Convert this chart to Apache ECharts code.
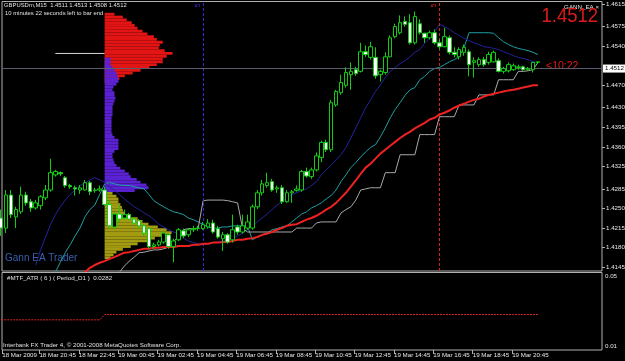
<!DOCTYPE html>
<html><head><meta charset="utf-8">
<script src="https://cdn.jsdelivr.net/npm/echarts@6/dist/echarts.min.js"></script>
<style>html,body{margin:0;padding:0;background:#000;}#c{width:625px;height:361px;}</style>
</head><body><div id="c"></div>
<script>
// ---------- DATA ----------
const headerText = 'GBPUSDm,M15  1.4511 1.4513 1.4508 1.4512';
const timerText = '10 minutes 22 seconds left to bar end';
const atrTitle = '#MTF_ATR ( 6 ) ( Period_D1 )  0.0282';
const footerText = 'Interbank FX Trader 4, \u00a9 2001-2008 MetaQuotes Software Corp.';
const eaName = 'GANN_EA \u00d7';
const bigPrice = '1.4512';
const barTimer = '<10:22';
const watermark = 'Gann EA Trader';
const bidPrice = 1.4512;

const timeLabels = ['18 Mar 2009','18 Mar 20:45','18 Mar 22:45','19 Mar 00:45','19 Mar 02:45','19 Mar 04:45','19 Mar 06:45','19 Mar 08:45','19 Mar 10:45','19 Mar 12:45','19 Mar 14:45','19 Mar 16:45','19 Mar 18:45','19 Mar 20:45'];
const timeLabelBars = [0,8,16,24,32,40,48,56,64,72,80,88,96,104];
const priceTicks = [1.4615,1.4575,1.4540,1.4470,1.4430,1.4395,1.4360,1.4325,1.4285,1.4250,1.4215,1.4180,1.4145];
const atrTicks = [0.01,0.05];

// [open, close, low, high] per M15 bar, from 18 Mar 18:45
const candles = [
[1.4233,1.4215,1.4201,1.4248],[1.4215,1.4274,1.4206,1.4283],[1.4274,1.4239,1.4233,1.4283],[1.4235,1.4248,1.4215,1.4253],
[1.4244,1.4274,1.4240,1.4289],[1.4274,1.4260,1.4255,1.4280],[1.4262,1.4251,1.4244,1.4267],[1.4251,1.4260,1.4248,1.4265],
[1.4255,1.4271,1.4248,1.4274],[1.4269,1.4283,1.4265,1.4292],[1.4283,1.4314,1.4280,1.4339],[1.4310,1.4316,1.4307,1.4319],
[1.4314,1.4312,1.4308,1.4316],[1.4305,1.4291,1.4287,1.4308],[1.4291,1.4289,1.4285,1.4294],[1.4287,1.4285,1.4273,1.4291],
[1.4283,1.4287,1.4276,1.4292],[1.4283,1.4296,1.4282,1.4301],[1.4296,1.4280,1.4274,1.4299],[1.4282,1.4283,1.4278,1.4287],
[1.4283,1.4285,1.4280,1.4291],[1.4283,1.4257,1.4255,1.4289],[1.4257,1.4219,1.4214,1.4265],[1.4217,1.4240,1.4214,1.4244],
[1.4240,1.4231,1.4226,1.4257],[1.4233,1.4239,1.4230,1.4248],[1.4239,1.4231,1.4228,1.4242],[1.4231,1.4224,1.4221,1.4235],
[1.4228,1.4219,1.4214,1.4231],[1.4219,1.4206,1.4201,1.4222],[1.4214,1.4182,1.4178,1.4217],[1.4182,1.4185,1.4178,1.4189],
[1.4185,1.4190,1.4182,1.4194],[1.4190,1.4206,1.4187,1.4210],[1.4203,1.4182,1.4178,1.4206],[1.4182,1.4192,1.4154,1.4196],
[1.4194,1.4212,1.4192,1.4215],[1.4210,1.4201,1.4197,1.4214],[1.4203,1.4212,1.4199,1.4215],[1.4212,1.4214,1.4208,1.4219],
[1.4214,1.4215,1.4210,1.4219],[1.4214,1.4221,1.4212,1.4226],[1.4217,1.4224,1.4214,1.4231],[1.4224,1.4208,1.4205,1.4230],
[1.4214,1.4199,1.4196,1.4219],[1.4196,1.4203,1.4174,1.4208],[1.4203,1.4190,1.4187,1.4206],[1.4194,1.4212,1.4189,1.4239],
[1.4217,1.4208,1.4203,1.4221],[1.4208,1.4219,1.4205,1.4239],[1.4215,1.4226,1.4212,1.4239],[1.4215,1.4253,1.4212,1.4257],
[1.4253,1.4278,1.4249,1.4283],[1.4278,1.4294,1.4273,1.4301],[1.4291,1.4296,1.4287,1.4314],[1.4298,1.4283,1.4280,1.4303],
[1.4285,1.4287,1.4278,1.4291],[1.4287,1.4262,1.4258,1.4292],[1.4262,1.4278,1.4260,1.4283],[1.4278,1.4280,1.4260,1.4283],
[1.4282,1.4285,1.4280,1.4291],[1.4283,1.4316,1.4280,1.4319],[1.4316,1.4308,1.4305,1.4323],[1.4307,1.4319,1.4303,1.4323],
[1.4319,1.4344,1.4316,1.4350],[1.4341,1.4368,1.4333,1.4371],[1.4368,1.4355,1.4351,1.4373],[1.4355,1.4439,1.4351,1.4444],
[1.4435,1.4459,1.4432,1.4462],[1.4457,1.4475,1.4453,1.4489],[1.4470,1.4493,1.4466,1.4502],[1.4489,1.4495,1.4462,1.4511],
[1.4498,1.4491,1.4487,1.4503],[1.4495,1.4530,1.4493,1.4546],[1.4530,1.4525,1.4521,1.4541],[1.4520,1.4539,1.4516,1.4548],
[1.4520,1.4487,1.4482,1.4538],[1.4489,1.4495,1.4477,1.4498],[1.4493,1.4521,1.4489,1.4529],[1.4521,1.4555,1.4520,1.4559],
[1.4557,1.4575,1.4554,1.4580],[1.4564,1.4582,1.4561,1.4595],[1.4584,1.4579,1.4575,1.4593],[1.4582,1.4546,1.4543,1.4597],
[1.4546,1.4593,1.4543,1.4602],[1.4580,1.4564,1.4561,1.4588],[1.4563,1.4555,1.4546,1.4564],[1.4555,1.4564,1.4552,1.4568],
[1.4564,1.4546,1.4543,1.4570],[1.4546,1.4539,1.4534,1.4552],[1.4539,1.4557,1.4538,1.4573],[1.4555,1.4529,1.4525,1.4559],
[1.4529,1.4525,1.4520,1.4538],[1.4521,1.4534,1.4516,1.4538],[1.4529,1.4538,1.4523,1.4543],[1.4530,1.4507,1.4486,1.4534],
[1.4511,1.4514,1.4484,1.4520],[1.4507,1.4516,1.4503,1.4520],[1.4516,1.4507,1.4503,1.4521],[1.4511,1.4525,1.4507,1.4530],
[1.4512,1.4529,1.4511,1.4532],[1.4514,1.4495,1.4493,1.4518],[1.4495,1.4500,1.4491,1.4503],[1.4496,1.4507,1.4493,1.4511],
[1.4498,1.4505,1.4496,1.4509],[1.4502,1.4503,1.4498,1.4507],[1.4503,1.4498,1.4496,1.4505],[1.4498,1.4500,1.4496,1.4503],
[1.4498,1.4511,1.4493,1.4512],[1.4511,1.4512,1.4508,1.4513]
];

const redMaStart = 17;
const redMa = [1.4136,1.4144,1.4149,1.4153,1.4156,1.4160,1.4163,1.4167,1.4171,1.4172,
1.4174,1.4176,1.4178,1.4178,1.4180,1.4180,1.4181,1.4181,1.4181,1.4183,
1.4183,1.4183,1.4185,1.4185,1.4187,1.4187,1.4189,1.4189,1.4190,1.4190,
1.4192,1.4194,1.4194,1.4196,1.4197,1.4199,1.4203,1.4205,1.4208,1.4212,
1.4215,1.4219,1.4221,1.4222,1.4226,1.4230,1.4233,1.4237,1.4242,1.4248,
1.4253,1.4260,1.4269,1.4278,1.4289,1.4300,1.4312,1.4323,1.4330,1.4339,
1.4348,1.4355,1.4362,1.4369,1.4376,1.4382,1.4387,1.4393,1.4398,1.4403,
1.4409,1.4412,1.4418,1.4421,1.4425,1.4430,1.4434,1.4437,1.4441,1.4444,
1.4446,1.4450,1.4453,1.4455,1.4457,1.4459,1.4461,1.4462,1.4464,1.4466,
1.4468,1.4470,1.4470];

const navyStart = 7;
const navyLine = [1.4149,1.4176,1.4199,1.4221,1.4239,1.4253,1.4265,1.4275,1.4283,1.4291,
1.4296,1.4301,1.4305,1.4301,1.4296,1.4289,1.4282,1.4275,1.4267,1.4260,
1.4253,1.4248,1.4242,1.4237,1.4230,1.4222,1.4217,1.4212,1.4208,1.4205,
1.4197,1.4192,1.4189,1.4187,1.4185,1.4187,1.4189,1.4190,1.4192,1.4194,
1.4197,1.4201,1.4206,1.4212,1.4219,1.4226,1.4233,1.4240,1.4248,1.4256,
1.4262,1.4269,1.4275,1.4278,1.4282,1.4285,1.4291,1.4298,1.4310,1.4319,
1.4328,1.4337,1.4346,1.4359,1.4376,1.4394,1.4412,1.4430,1.4444,1.4459,
1.4471,1.4484,1.4495,1.4502,1.4509,1.4514,1.4521,1.4529,1.4534,1.4545,
1.4555,1.4566,1.4579,1.4575,1.4570,1.4564,1.4559,1.4554,1.4550,1.4546,
1.4543,1.4539,1.4538,1.4536,1.4534,1.4530,1.4527,1.4523,1.4520,1.4518,
1.4516,1.4512,1.4511];

const tealAStart = 11;
const tealA = [1.4136,1.4154,1.4171,1.4185,1.4201,1.4215,1.4235,1.4248,1.4256,1.4275,
1.4294,1.4296,1.4294,1.4292,1.4291,1.4291,1.4289,1.4287,1.4285,1.4275,
1.4264,1.4258,1.4253,1.4248,1.4244,1.4242,1.4239,1.4233,1.4230,1.4226,
1.4221,1.4217,1.4215,1.4215,1.4217,1.4217,1.4219,1.4219,1.4219,1.4219,1.4194];

const tealBStart = 51;
const tealB = [1.4194,1.4199,1.4203,1.4206,1.4212,1.4214,1.4217,1.4219,
1.4226,1.4233,1.4240,1.4244,1.4251,1.4255,1.4260,1.4267,
1.4273,1.4283,1.4298,1.4310,1.4323,1.4332,1.4342,1.4351,
1.4359,1.4364,1.4378,1.4394,1.4412,1.4427,1.4439,1.4452,
1.4462,1.4466,1.4480,1.4486,1.4495,1.4500,1.4502,1.4507,
1.4512,1.4516,1.4521,1.4538,1.4564,1.4564,1.4564,1.4564,
1.4564,1.4563,1.4555,1.4548,1.4543,1.4539,1.4536,1.4534,
1.4532,1.4529,1.4525];

const greyStart = 24;
const greyStop = [1.4136,1.4147,1.4156,1.4163,1.4171,1.4172,1.4174,1.4176,1.4176,1.4178,
1.4181,1.4190,1.4201,1.4212,1.4214,1.4214,1.4215,1.4264,1.4265,1.4265,
1.4265,1.4265,1.4264,1.4262,1.4260,1.4215,1.4208,1.4208,1.4208,1.4208,
1.4208,1.4208,1.4208,1.4208,1.4208,1.4208,1.4215,1.4215,1.4215,1.4215,
1.4224,1.4226,1.4226,1.4226,1.4226,1.4242,1.4248,1.4253,1.4265,1.4283,
1.4285,1.4287,1.4287,1.4287,1.4314,1.4314,1.4314,1.4346,1.4346,1.4346,
1.4346,1.4382,1.4382,1.4382,1.4382,1.4414,1.4414,1.4414,1.4414,1.4435,
1.4435,1.4435,1.4435,1.4453,1.4453,1.4453,1.4453,1.4480,1.4480,1.4480,
1.4480,1.4495,1.4495,1.4496,1.4498,1.4511];

const whiteLevel = [[11,1.4527],[21,1.4527]];

// MTF ATR(6) D1 per bar: 21 bars of 18 Mar, 89 bars of 19 Mar
const atrD1 = [
0.0252,0.0252,0.0252,0.0252,0.0252,0.0252,0.0252,0.0252,0.0252,0.0252,
0.0252,0.0252,0.0252,0.0252,0.0252,0.0252,0.0252,0.0252,0.0252,0.0252,0.0252,
0.0282,0.0282,0.0282,0.0282,0.0282,0.0282,0.0282,0.0282,0.0282,0.0282,
0.0282,0.0282,0.0282,0.0282,0.0282,0.0282,0.0282,0.0282,0.0282,0.0282,
0.0282,0.0282,0.0282,0.0282,0.0282,0.0282,0.0282,0.0282,0.0282,0.0282,
0.0282,0.0282,0.0282,0.0282,0.0282,0.0282,0.0282,0.0282,0.0282,0.0282,
0.0282,0.0282,0.0282,0.0282,0.0282,0.0282,0.0282,0.0282,0.0282,0.0282,
0.0282,0.0282,0.0282,0.0282,0.0282,0.0282,0.0282,0.0282,0.0282,0.0282,
0.0282,0.0282,0.0282,0.0282,0.0282,0.0282,0.0282,0.0282,0.0282,0.0282,
0.0282,0.0282,0.0282,0.0282,0.0282,0.0282,0.0282,0.0282,0.0282,0.0282,
0.0282,0.0282,0.0282,0.0282,0.0282,0.0282,0.0282,0.0282,0.0282];

// Market profile rows: [price, length in bars], session starting at bar 21
const profileStartBar = 21;
const profileRowStep = 0.0005;
const redProfile = [[1.4597,2.0],[1.4592,3.7],[1.4587,4.5],[1.4582,5.5],[1.4577,6.1],[1.4572,6.7],[1.4567,7.7],[1.4562,8.7],
[1.4557,10.0],[1.4552,10.6],[1.4547,11.8],[1.4542,11.2],[1.4537,11.0],[1.4532,12.2],[1.4527,13.8],[1.4522,12.6],
[1.4517,11.8],[1.4512,11.8],[1.4507,10.6],[1.4502,9.1],[1.4497,7.3],[1.4492,5.7],[1.4487,4.1],[1.4482,3.0],[1.4477,1.8]];
const purpleProfile = [[1.4517,1.2],[1.4512,1.2],[1.4507,1.2],[1.4502,1.6],[1.4497,2.0],[1.4492,2.4],[1.4487,2.6],[1.4482,2.8],
[1.4477,2.8],[1.4472,2.4],[1.4467,1.8],[1.4462,1.6],[1.4457,2.0],[1.4452,2.0],[1.4447,2.2],[1.4442,2.0],
[1.4437,1.8],[1.4432,1.6],[1.4427,1.6],[1.4422,1.6],[1.4417,1.6],[1.4412,1.4],[1.4407,1.4],[1.4402,1.4],
[1.4397,1.4],[1.4392,1.4],[1.4387,1.4],[1.4382,1.6],[1.4377,2.0],[1.4372,2.8],[1.4367,2.8],[1.4362,2.8],
[1.4357,2.8],[1.4352,2.0],[1.4347,1.6],[1.4342,1.6],[1.4337,1.8],[1.4332,2.0],[1.4327,2.4],[1.4322,3.2],
[1.4317,4.1],[1.4312,4.9],[1.4307,5.3],[1.4302,6.5],[1.4297,7.3],[1.4292,8.5],[1.4287,8.9],[1.4282,6.1]];
const oliveProfile = [[1.4277,1.6],[1.4272,2.4],[1.4267,2.8],[1.4262,2.8],[1.4257,3.2],[1.4252,3.5],[1.4247,3.7],[1.4242,4.1],
[1.4237,5.3],[1.4232,6.7],[1.4227,7.7],[1.4222,8.9],[1.4217,10.8],[1.4212,12.6],[1.4207,13.6],[1.4202,11.8],
[1.4197,10.2],[1.4192,8.7],[1.4187,6.7],[1.4182,5.3],[1.4177,3.7],[1.4172,2.4],[1.4167,1.8],[1.4162,1.2]];

const blueVLineBar = 41;
const redVLineBar = 89;

// ---------- CHART ----------
const FONT = '"Liberation Sans", Arial, sans-serif';
const xMin = 0.16, xMax = 122.0;
const priceMin = 1.41383, priceMax = 1.46198;
const atrMin = 0.00812, atrMax = 0.0520;
const GREEN = '#12cc12';

const pts = (start, arr) => arr.map((v, i) => [start + i, v]);

function profileSeries(rows, color, z) {
  return {
    type: 'custom', xAxisIndex: 0, yAxisIndex: 0, z: z, silent: true,
    dimensions: ['price', 'len'], encode: { x: 1, y: 0 },
    data: rows,
    renderItem: function (params, api) {
      const p = api.value(0), len = api.value(1);
      const a = api.coord([profileStartBar, p + profileRowStep / 2]);
      const b = api.coord([profileStartBar + len, p - profileRowStep / 2]);
      return { type: 'rect', shape: { x: a[0], y: a[1], width: b[0] - a[0], height: b[1] - a[1] }, style: { fill: color } };
    }
  };
}

function lineSeries(data, color, width, z) {
  return { type: 'line', xAxisIndex: 0, yAxisIndex: 0, data: data, symbol: 'none', z: z, silent: true,
    lineStyle: { color: color, width: width }, animation: false };
}

const chart = echarts.init(document.getElementById('c'), null, { width: 625, height: 361 });
const timeTickPos = timeLabelBars.map(b => b === 0 ? xMin + 0.05 : b - 0.25);

chart.setOption({
  animation: false,
  backgroundColor: '#000000',
  grid: [
    { left: 2, top: 1.5, right: 23, height: 269.5, show: true, borderColor: '#b0b0b0', borderWidth: 1, backgroundColor: 'transparent', outerBoundsMode: 'none' },
    { left: 2, top: 272.5, right: 23, height: 77.5, show: true, borderColor: '#b0b0b0', borderWidth: 1, backgroundColor: 'transparent', outerBoundsMode: 'none' }
  ],
  xAxis: [
    { type: 'value', gridIndex: 0, min: xMin, max: xMax, show: false },
    { type: 'value', gridIndex: 1, min: xMin, max: xMax,
      axisLine: { show: false }, splitLine: { show: false },
      axisTick: { show: true, customValues: timeTickPos, length: 4, lineStyle: { color: '#b0b0b0' } },
      axisLabel: { show: true, customValues: timeTickPos, color: '#e6e6e6', fontSize: 6.2, fontFamily: FONT, align: 'left', margin: 2,
        formatter: v => timeLabels[Math.round((v + 0.25) / 8)] } }
  ],
  yAxis: [
    { type: 'value', gridIndex: 0, position: 'right', min: priceMin, max: priceMax, scale: true,
      axisLine: { show: false }, splitLine: { show: false },
      axisTick: { show: true, customValues: priceTicks, length: 3, lineStyle: { color: '#b0b0b0' } },
      axisLabel: { show: true, customValues: priceTicks, color: '#e6e6e6', fontSize: 6.2, fontFamily: FONT, margin: 4,
        formatter: v => v.toFixed(4) } },
    { type: 'value', gridIndex: 1, position: 'right', min: atrMin, max: atrMax,
      axisLine: { show: false }, splitLine: { show: false },
      axisTick: { show: false },
      axisLabel: { show: true, customValues: atrTicks, color: '#e6e6e6', fontSize: 6.2, fontFamily: FONT, margin: 3,
        formatter: v => v.toFixed(2) } }
  ],
  series: [
    profileSeries(redProfile, '#e31414', 1),
    profileSeries(purpleProfile, '#5b22d4', 2),
    profileSeries(oliveProfile, '#a39b12', 2),
    Object.assign(lineSeries(whiteLevel, '#d8d8d8', 1, 3), {
      markLine: { symbol: 'none', silent: true, animation: false, data: [
        { xAxis: blueVLineBar, lineStyle: { color: '#3a28d0', type: [3, 2], width: 1 },
          label: { show: true, formatter: '5', position: 'insideEndTop', color: '#3a28d0', fontSize: 7, fontFamily: FONT, distance: 2 } },
        { xAxis: redVLineBar, lineStyle: { color: '#d42020', type: [3, 2], width: 1 },
          label: { show: true, formatter: '5', position: 'insideEndTop', color: '#d42020', fontSize: 7, fontFamily: FONT, distance: 2 } },
        { yAxis: bidPrice, lineStyle: { color: '#5c5c70', type: 'solid', width: 1 },
          label: { show: true, position: 'end', formatter: bidPrice.toFixed(4), distance: 1, backgroundColor: '#ffffff', color: '#000000',
            fontSize: 6.2, fontFamily: FONT, padding: [1, 2, 1, 2] } }
      ] } }),
    lineSeries(pts(tealAStart, tealA), '#1f9fa3', 1, 4),
    lineSeries(pts(tealBStart, tealB), '#1f9fa3', 1, 4),
    lineSeries(pts(navyStart, navyLine), '#23239c', 1, 4),
    lineSeries(pts(greyStart, greyStop), '#a8a8a8', 1, 4),
    lineSeries(pts(redMaStart, redMa), '#ee2222', 2, 5),
    { type: 'candlestick', xAxisIndex: 0, yAxisIndex: 0, z: 6, silent: true,
      dimensions: ['bar', 'open', 'close', 'low', 'high'], encode: { x: 0, y: [1, 2, 3, 4] },
      data: candles.map((c, i) => [i, c[0], c[1], c[2], c[3]]),
      barWidth: 4,
      itemStyle: { color: '#000000', color0: '#ffffff', borderColor: GREEN, borderColor0: GREEN, borderColorDoji: GREEN, borderWidth: 1 } },
    { type: 'line', xAxisIndex: 1, yAxisIndex: 1, data: pts(0, atrD1), symbol: 'none', silent: true,
      lineStyle: { color: '#e02424', width: 1, type: [2, 1] } }
  ],
  graphic: [
    { type: 'text', x: 4, y: 2, silent: true, style: { text: headerText, fill: '#e0e0e0', fontSize: 5.9, fontFamily: FONT, verticalAlign: 'top' } },
    { type: 'text', x: 5, y: 10, silent: true, style: { text: timerText, fill: '#e0e0e0', fontSize: 5.9, fontFamily: FONT, verticalAlign: 'top' } },
    { type: 'text', x: 599, y: 4, silent: true, style: { text: eaName, fill: '#e0e0e0', fontSize: 6.2, fontFamily: FONT, align: 'right', verticalAlign: 'top' } },
    { type: 'text', x: 598, y: 6, scaleX: 0.88, silent: true, style: { text: bigPrice, fill: '#e01a1a', fontSize: 21, fontFamily: FONT, align: 'right', verticalAlign: 'top' } },
    { type: 'text', x: 546, y: 61, silent: true, style: { text: barTimer, fill: '#e01a1a', fontSize: 10.5, fontFamily: FONT, verticalAlign: 'top' } },
    { type: 'text', x: 5, y: 253, silent: true, style: { text: watermark, fill: '#3a5fae', fontSize: 10, fontFamily: FONT, verticalAlign: 'top' } },
    { type: 'text', x: 7, y: 275, silent: true, style: { text: atrTitle, fill: '#e0e0e0', fontSize: 6.2, fontFamily: FONT, verticalAlign: 'top' } },
    { type: 'text', x: 3, y: 342.5, silent: true, style: { text: footerText, fill: '#e0e0e0', fontSize: 6.2, fontFamily: FONT, verticalAlign: 'top' } }
  ]
});
</script></body></html>
